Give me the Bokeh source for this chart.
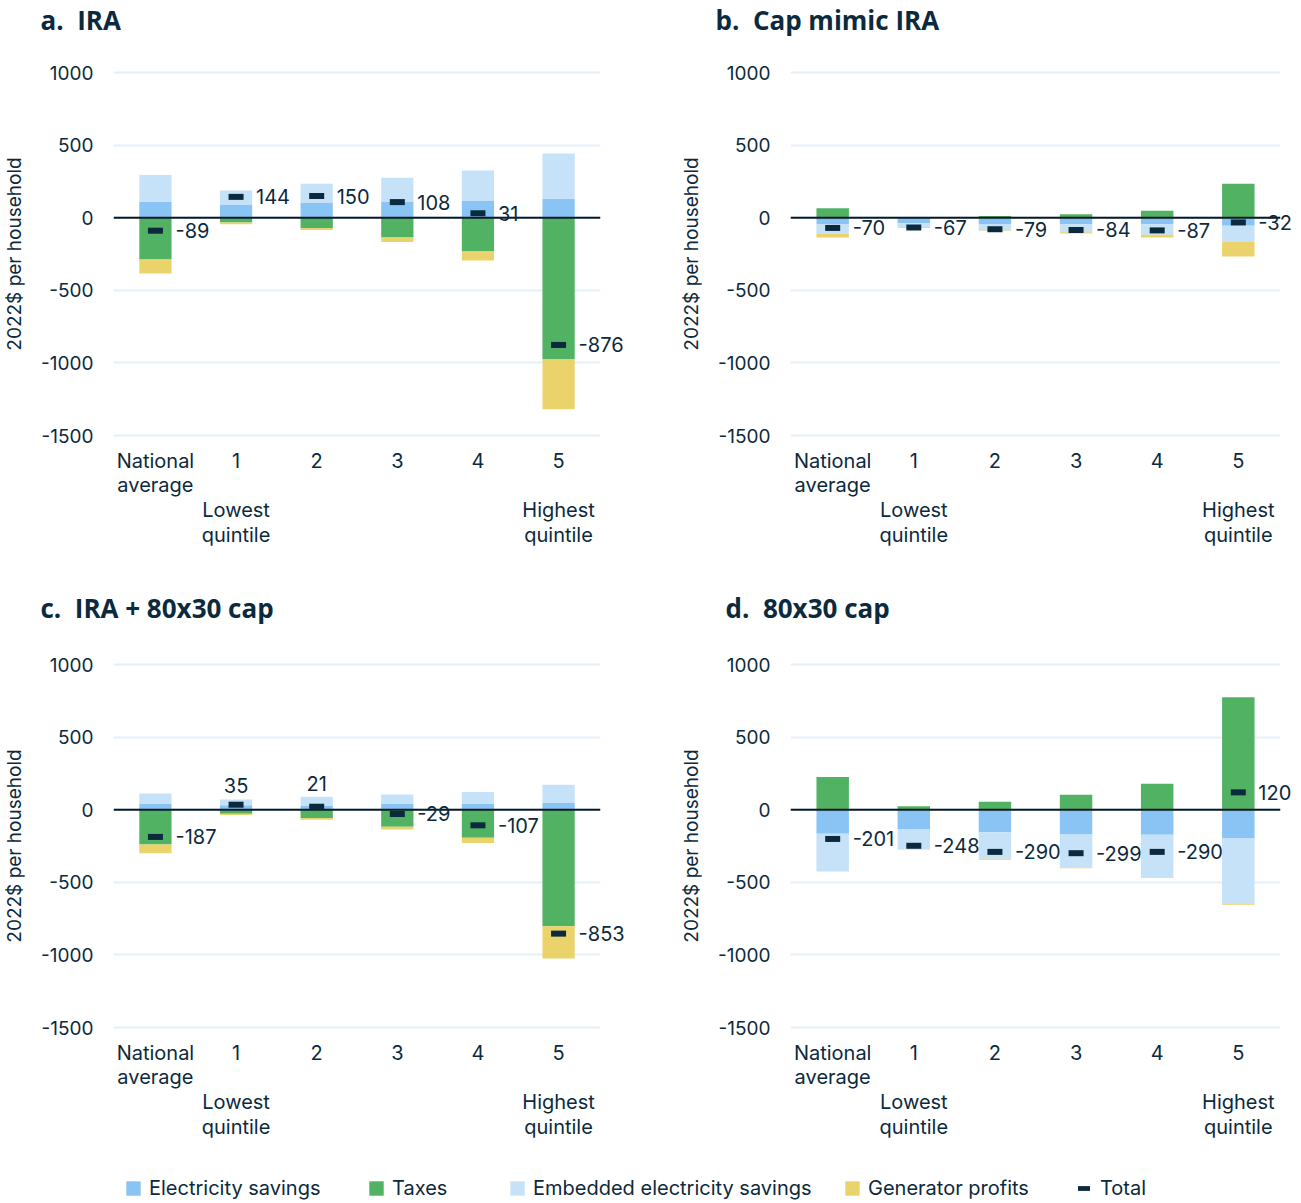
import numpy as np
from bokeh.plotting import figure
from bokeh.layouts import column, row
from bokeh.models import Range1d, FixedTicker, Span, Legend, LegendItem, ColumnDataSource, Label
from bokeh.embed import file_html
from bokeh.resources import INLINE
from bokeh.core.properties import value

# ---------------- data ----------------
categories = ["National\naverage", "1\n\nLowest\nquintile", "2", "3", "4", "5\n\nHighest\nquintile"]
series_names = ["Electricity savings", "Taxes", "Embedded electricity savings", "Generator profits", "Total"]
y_ticks = [-1500, -1000, -500, 0, 500, 1000]
y_tick_labels = ["-1500", "-1000", "-500", "0", "500", "1000"]
panel_titles = ["a.\u00a0\u00a0IRA", "b.\u00a0\u00a0Cap mimic IRA",
                "c.\u00a0\u00a0IRA + 80x30 cap", "d.\u00a0\u00a080x30 cap"]

# a. IRA
ira_elec = [110, 92, 105, 112, 115, 131]
ira_taxes = [-287, -32, -71, -135, -233, -973]
ira_embedded = [184, 96, 130, 163, 211, 312]
ira_generator = [-96, -12, -14, -32, -62, -346]
ira_total = [-89, 144, 150, 108, 31, -876]

# b. Cap mimic IRA
mimic_elec = [-42, -38, -42, -45, -45, -55]
mimic_taxes = [65, 3, 12, 25, 48, 235]
mimic_embedded = [-68, -28, -45, -55, -72, -112]
mimic_generator = [-25, -4, -4, -9, -18, -100]
mimic_total = [-70, -67, -79, -84, -87, -32]

# c. IRA + 80x30 cap
iracap_elec = [39, 32, 30, 39, 39, 46]
iracap_taxes = [-240, -27, -56, -117, -193, -803]
iracap_embedded = [73, 39, 59, 67, 83, 126]
iracap_generator = [-59, -9, -12, -18, -36, -222]
iracap_total = [-187, 35, 21, -29, -107, -853]

# d. 80x30 cap
cap_elec = [-165, -135, -155, -170, -172, -197]
cap_taxes = [225, 25, 55, 103, 180, 775]
cap_embedded = [-258, -136, -182, -229, -295, -452]
cap_generator = [-3, -2, -8, -3, -3, -6]
cap_total = [-201, -248, -290, -299, -290, 120]

# ---------------- style ----------------
COLORS = ["#89c4f4", "#52b263", "#c6e2f9", "#ebd36b"]
DARK = "#0c2a3d"
GRID = "#e3f0fb"
FONT = "Inter"
TITLE_FONT = "Open Sans"
Y_LO, Y_HI = -1541, 1042
FRAME_TOP = 26
FRAME_H = 375
W_LEFT, W_RIGHT = 650, 651


def stack(series):
    n = len(series[0])
    pos = np.zeros(n)
    neg = np.zeros(n)
    out = []
    for s in series:
        s = np.asarray(s, dtype=float)
        bottom = np.where(s >= 0, pos, neg)
        top = bottom + s
        pos = np.where(s >= 0, top, pos)
        neg = np.where(s < 0, top, neg)
        out.append((bottom, top))
    return out, pos


def title_strip(texts, xs, height, center_from_top):
    t = figure(width=W_LEFT + W_RIGHT, height=height, output_backend="svg", toolbar_location=None,
               x_range=Range1d(0, W_LEFT + W_RIGHT), y_range=Range1d(0, height), min_border=0)
    t.axis.visible = False
    t.grid.visible = False
    t.outline_line_color = None
    for txt, x in zip(texts, xs):
        t.add_layout(Label(x=x, y=height - center_from_top, text=txt, text_font=TITLE_FONT,
                           text_font_size="26px", text_font_style="bold", text_color=DARK,
                           text_baseline="middle", text_align="left"))
    return t


def panel(elec, taxes, emb, gen, total, width, height, left, right, above=()):
    p = figure(width=width, height=height, output_backend="svg", toolbar_location=None,
               x_range=Range1d(-0.52, 5.52), y_range=Range1d(Y_LO, Y_HI),
               min_border_left=left, min_border_right=right, min_border_top=FRAME_TOP,
               min_border_bottom=height - FRAME_TOP - FRAME_H)
    p.outline_line_color = None

    xs = list(range(len(categories)))
    stacks, pos_top = stack([elec, taxes, emb, gen])
    for (b, t), c in zip(stacks, COLORS):
        src = ColumnDataSource(dict(x=xs, bottom=b, top=t))
        p.vbar(x="x", bottom="bottom", top="top", width=0.4, source=src,
               fill_color=c, line_color=None)

    p.add_layout(Span(location=0, dimension="width", line_color="#0a1a24", line_width=2))

    tsrc = ColumnDataSource(dict(x=xs, y=total))
    p.rect(x="x", y="y", width=15, width_units="screen", height=6, height_units="screen",
           fill_color=DARK, line_color=None, source=tsrc, level="overlay")

    right_idx = [i for i in xs if i not in above]
    lsrc = ColumnDataSource(dict(x=[xs[i] for i in right_idx], y=[total[i] for i in right_idx],
                                 t=[str(total[i]) for i in right_idx]))
    p.text(x="x", y="y", text="t", source=lsrc, x_offset=20, text_align="left",
           text_baseline="middle", text_font=value(FONT), text_font_size="20px",
           text_color=DARK, level="overlay")
    if above:
        asrc = ColumnDataSource(dict(x=[xs[i] for i in above], y=[pos_top[i] for i in above],
                                     t=[str(total[i]) for i in above]))
        p.text(x="x", y="y", text="t", source=asrc, y_offset=-6, text_align="center",
               text_baseline="bottom", text_font=value(FONT), text_font_size="20px",
               text_color=DARK, level="overlay")

    p.xgrid.visible = False
    p.ygrid.ticker = FixedTicker(ticks=y_ticks)
    p.ygrid.grid_line_color = GRID
    p.ygrid.grid_line_width = 2

    p.yaxis.ticker = FixedTicker(ticks=y_ticks)
    p.yaxis.major_label_overrides = dict(zip(y_ticks, y_tick_labels))
    p.yaxis.axis_label = "2022$ per household"
    p.yaxis.axis_label_text_font_style = "normal"
    p.yaxis.axis_label_text_font = FONT
    p.yaxis.axis_label_text_font_size = "19px"
    p.yaxis.axis_label_text_color = DARK
    p.yaxis.axis_label_standoff = 12
    p.yaxis.major_label_standoff = 20
    p.yaxis.major_label_text_font_size = "19px"

    p.xaxis.ticker = FixedTicker(ticks=xs)
    p.xaxis.major_label_overrides = {i: categories[i] for i in xs}
    p.xaxis.major_label_standoff = 7
    p.xaxis.major_label_text_line_height = 1.03
    p.xaxis.major_label_text_font_size = "20px"

    for ax in (p.xaxis, p.yaxis):
        ax.axis_line_color = None
        ax.major_tick_line_color = None
        ax.minor_tick_line_color = None
        ax.major_tick_out = 0
        ax.major_tick_in = 0
        ax.minor_tick_out = 0
        ax.minor_tick_in = 0
        ax.major_label_text_font = FONT
        ax.major_label_text_color = DARK
    return p


TOP_H = 545
BOT_H = 533
ta = title_strip(panel_titles[:2], [40, 715], 40, 19)
pa = panel(ira_elec, ira_taxes, ira_embedded, ira_generator, ira_total,
           W_LEFT, TOP_H, 112, 50)
pb = panel(mimic_elec, mimic_taxes, mimic_embedded, mimic_generator, mimic_total,
           W_RIGHT, TOP_H, 140, 21)
tb = title_strip(panel_titles[2:], [40, 725], 47, 22)
pc = panel(iracap_elec, iracap_taxes, iracap_embedded, iracap_generator, iracap_total,
           W_LEFT, BOT_H, 112, 50, above=(1, 2))
pd_ = panel(cap_elec, cap_taxes, cap_embedded, cap_generator, cap_total,
            W_RIGHT, BOT_H, 140, 21)

# ---------------- legend ----------------
lg = figure(width=W_LEFT + W_RIGHT, height=38, output_backend="svg", toolbar_location=None,
            x_range=Range1d(0, 1), y_range=Range1d(0, 1), min_border=0)
lg.axis.visible = False
lg.grid.visible = False
lg.outline_line_color = None

renderers = []
for c in COLORS + [DARK]:
    renderers.append(lg.vbar(x=[-10], top=[-10], width=1, fill_color=c, line_color=None))

legend_x = [124, 367, 508, 843, 1076]
glyph_w = [18, 18, 18, 18, 15]
glyph_h = [18, 18, 18, 18, 6]
standoff = [7, 7, 7, 7, 9]
for name, r, lx, gw, gh, so in zip(series_names, renderers, legend_x, glyph_w, glyph_h, standoff):
    leg = Legend(items=[LegendItem(label=name, renderers=[r])], location=(lx, 3),
                 orientation="horizontal", padding=0, margin=0, border_line_color=None,
                 background_fill_alpha=0, glyph_width=gw, glyph_height=gh, label_standoff=so,
                 label_text_font=FONT, label_text_font_size="20px", label_text_color=DARK)
    lg.add_layout(leg)

layout = column(ta, row(pa, pb), tb, row(pc, pd_), lg)

with open("out.html", "w") as f:
    f.write(file_html(layout, INLINE))
